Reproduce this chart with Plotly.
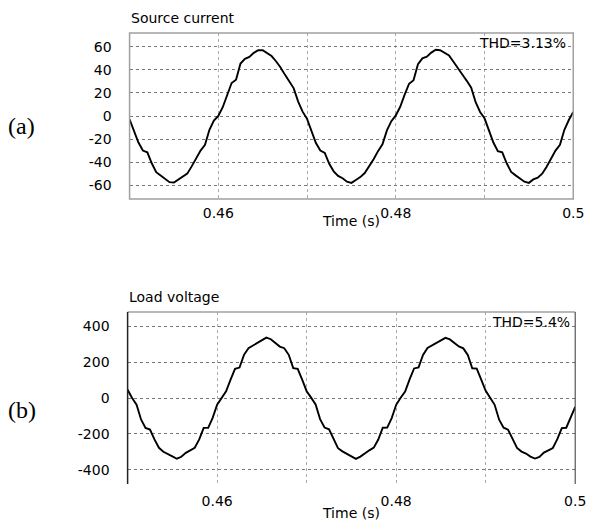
import numpy as np
import plotly.graph_objects as go

# ---------------- data ----------------
time_s = np.round(np.arange(101) * 0.0005 + 0.45, 4)

source_current = [
    -3, -13, -23, -30, -31.5, -41, -48.7, -51.6, -54.5, -57.4,
    -57.7, -55, -53, -50, -43.7, -37, -30, -25, -12, -4,
    0, 7.6, 18, 28.6, 31.5, 45.5, 49.6, 51.3, 54.8, 57,
    57, 54.8, 52, 47.5, 42.3, 35.9, 30, 24, 12.5, 3.8,
    -2.5, -12.5, -23.5, -30, -32, -41.5, -48, -52, -54, -57,
    -58, -55.5, -53, -49.5, -44, -37.5, -30.5, -24.5, -12.5, -4.5,
    0.5, 8, 18.5, 28, 31, 45, 50, 51.5, 55, 57.5,
    57, 55, 52.5, 47, 42, 36, 30.5, 24.5, 12, 3.5,
    -2, -13, -23, -30.5, -31.5, -41, -48.5, -51.5, -54.5, -57,
    -58, -55, -53.5, -50, -44, -37, -30, -25, -12, -3.5,
    3.5,
]

load_voltage = [
    46, 0, -37, -120, -167, -176, -231, -278, -300, -311,
    -326, -339, -328, -306, -293, -278, -231, -167, -167, -111,
    -37, 0, 37, 102, 163, 170, 241, 278, 293, 309,
    324, 337, 328, 306, 287, 278, 241, 167, 163, 102,
    38, 2, -36, -118, -165, -175, -230, -280, -298, -312,
    -325, -340, -327, -307, -292, -277, -232, -166, -165, -112,
    -38, 1, 36, 104, 165, 171, 240, 279, 294, 310,
    325, 336, 327, 305, 288, 277, 240, 166, 164, 103,
    40, 1, -38, -121, -166, -177, -231, -279, -299, -310,
    -327, -338, -329, -305, -292, -279, -230, -168, -166, -110,
    -50,
]

x_tickvals = [0.45, 0.46, 0.47, 0.48, 0.49, 0.5]
x_ticktext = ["", "0.46", "", "0.48", "", "0.5"]
cur_tickvals = [-60, -40, -20, 0, 20, 40, 60]
cur_ticktext = ["-60", "-40", "-20", "0", "20", "40", "60"]
volt_tickvals = [-400, -200, 0, 200, 400]
volt_ticktext = ["-400", "-200", "0", "200", "400"]

titles = ["Source current", "Load voltage"]
thd_labels = ["THD=3.13%", "THD=5.4%"]
panel_labels = ["(a)", "(b)"]
x_title = "Time (s)"

# ---------------- figure ----------------
W, H = 598, 522
FONT = "DejaVu Sans"

def px(x):
    return x / W

def py(y):
    return 1 - y / H

fig = go.Figure()
fig.add_trace(go.Scatter(x=time_s, y=source_current, mode="lines",
                         line=dict(color="black", width=1.9),
                         xaxis="x", yaxis="y", showlegend=False))
fig.add_trace(go.Scatter(x=time_s, y=load_voltage, mode="lines",
                         line=dict(color="black", width=1.9),
                         xaxis="x2", yaxis="y2", showlegend=False))

tickfont = dict(family=FONT, size=14, color="black")

xcommon = dict(range=[0.45, 0.5], tickvals=x_tickvals, ticktext=x_ticktext,
               showgrid=True, gridcolor="#aaaaaa", griddash="dot", gridwidth=1,
               zeroline=False, showline=False, ticks="", tickfont=tickfont)
ycommon = dict(showgrid=True, gridcolor="#777777", griddash="dot", gridwidth=1,
               zeroline=False, showline=False, ticks="", tickfont=tickfont,
               ticklabelstandoff=17)

fig.update_layout(
    width=W, height=H,
    margin=dict(l=0, r=0, t=0, b=0),
    paper_bgcolor="white", plot_bgcolor="white",
    xaxis=dict(domain=[px(132), px(584)], anchor="y", ticklabelstandoff=4, **xcommon),
    yaxis=dict(domain=[py(199), py(33)], anchor="x", range=[-72, 72],
               tickvals=cur_tickvals, ticktext=cur_ticktext, **ycommon),
    xaxis2=dict(domain=[px(130), px(586)], anchor="y2", ticklabelstandoff=7, **xcommon),
    yaxis2=dict(domain=[py(484), py(312)], anchor="x2", range=[-480, 480],
                tickvals=volt_tickvals, ticktext=volt_ticktext, **ycommon),
)

# frames
shapes = [
    dict(type="rect", xref="x domain", yref="y domain", x0=0, x1=1, y0=0, y1=1,
         line=dict(color="#a0a0a0", width=1.5), layer="above"),
    dict(type="line", xref="x2 domain", yref="y2 domain", x0=0, x1=1, y0=1, y1=1,
         line=dict(color="#a0a0a0", width=1.5), layer="above"),
    dict(type="line", xref="x2 domain", yref="y2 domain", x0=0, x1=0, y0=0, y1=1,
         line=dict(color="#222222", width=1.5), layer="above"),
    dict(type="line", xref="x2 domain", yref="y2 domain", x0=1, x1=1, y0=0, y1=1,
         line=dict(color="#555555", width=1.2), layer="above"),
]
fig.update_layout(shapes=shapes)

txt = dict(family=FONT, size=14, color="black")
ann = []
ann.append(dict(text=titles[0], x=px(131), y=py(18), xref="paper", yref="paper",
                xanchor="left", yanchor="middle", showarrow=False, font=txt))
ann.append(dict(text=titles[1], x=px(129), y=py(297), xref="paper", yref="paper",
                xanchor="left", yanchor="middle", showarrow=False, font=txt))
ann.append(dict(text=thd_labels[0], x=px(579), y=py(43), xref="paper", yref="paper",
                xanchor="right", yanchor="middle", showarrow=False, font=txt))
ann.append(dict(text=thd_labels[1], x=px(583), y=py(322), xref="paper", yref="paper",
                xanchor="right", yanchor="middle", showarrow=False, font=txt))
ann.append(dict(text=x_title, x=px(358), y=py(221), xref="paper", yref="paper",
                xanchor="center", yanchor="middle", showarrow=False, font=txt))
ann.append(dict(text=x_title, x=px(358), y=py(513), xref="paper", yref="paper",
                xanchor="center", yanchor="middle", showarrow=False, font=txt))
serif = dict(family="Liberation Serif", size=24, color="black")
ann.append(dict(text=panel_labels[0], x=px(22), y=py(126), xref="paper", yref="paper",
                xanchor="center", yanchor="middle", showarrow=False, font=serif))
ann.append(dict(text=panel_labels[1], x=px(22), y=py(410), xref="paper", yref="paper",
                xanchor="center", yanchor="middle", showarrow=False, font=serif))
fig.update_layout(annotations=ann)

fig.write_html("out.html", config={"displayModeBar": False},
               post_script="document.body.style.margin='0';document.body.style.overflow='hidden';")
